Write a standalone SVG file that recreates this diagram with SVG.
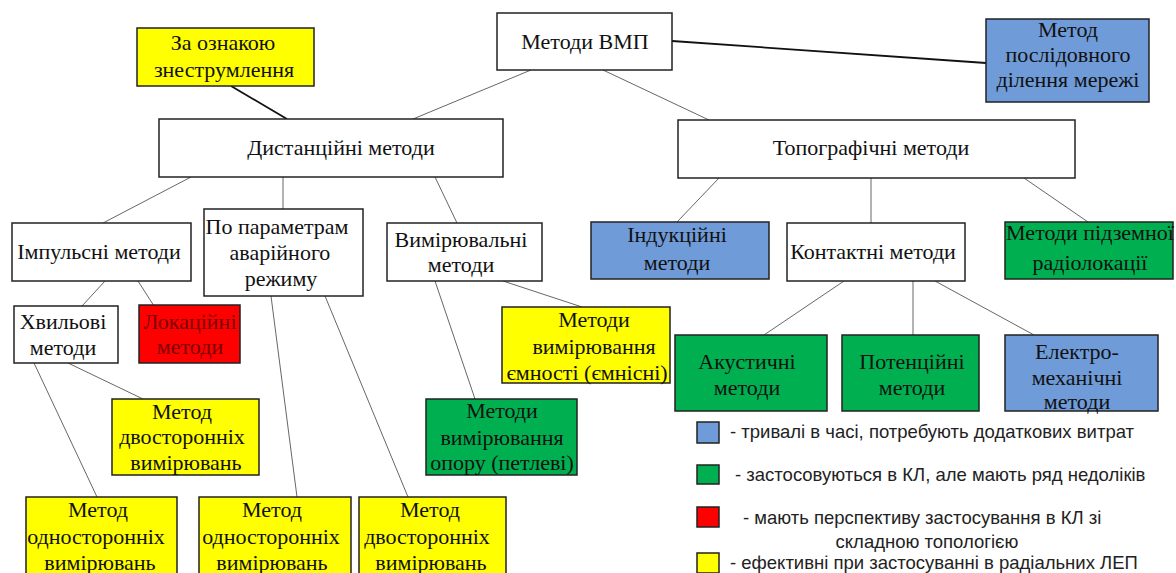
<svg xmlns="http://www.w3.org/2000/svg" width="1176" height="573" viewBox="0 0 1176 573">
<style>
.b{stroke:#222;stroke-width:1.5}
.w{fill:#fff}.y{fill:#ffff00}.g{fill:#00b050}.bl{fill:#6f9bd8}.r{fill:#ff0000}
text.t{font-family:'Liberation Serif','DejaVu Serif',serif;font-size:22px;fill:#111;text-anchor:middle}
text.rt{fill:#7a0000}
.c{stroke:#555;stroke-width:0.9;fill:none}
.ck{stroke:#111;stroke-width:1.8;fill:none}
text.lg{font-family:'Liberation Sans',Arial,sans-serif;font-size:18.5px;fill:#222}
</style>
<rect width="1176" height="573" fill="#fff"/>
<g id="connectors">
<line class="ck" x1="231" y1="86" x2="287" y2="119"/>
<line class="ck" x1="672" y1="41" x2="986" y2="63"/>
<line class="c" x1="531" y1="70" x2="413" y2="119"/>
<line class="c" x1="603" y1="70" x2="709" y2="120"/>
<line class="c" x1="191" y1="177" x2="103" y2="223"/>
<line class="c" x1="283" y1="177" x2="283" y2="209"/>
<line class="c" x1="435" y1="177" x2="457" y2="223"/>
<line class="c" x1="105" y1="281" x2="82" y2="306"/>
<line class="c" x1="138" y1="281" x2="154" y2="306"/>
<line class="c" x1="34" y1="363" x2="97" y2="497"/>
<line class="c" x1="68" y1="363" x2="143" y2="399"/>
<line class="c" x1="271" y1="296" x2="297" y2="497"/>
<line class="c" x1="325" y1="296" x2="408" y2="497"/>
<line class="c" x1="503" y1="281" x2="582" y2="307"/>
<line class="c" x1="435" y1="281" x2="475" y2="399"/>
<line class="c" x1="719" y1="178" x2="677" y2="222"/>
<line class="c" x1="871" y1="178" x2="871" y2="223"/>
<line class="c" x1="1024" y1="178" x2="1088" y2="222"/>
<line class="c" x1="844" y1="281" x2="764" y2="335"/>
<line class="c" x1="913" y1="281" x2="913" y2="335"/>
<line class="c" x1="935" y1="281" x2="1034" y2="335"/>
</g>
<g id="n-vmp"><rect class="b w" x="497" y="13" width="175" height="57"/><text class="t" x="585" y="49">Методи ВМП</text></g>
<g id="n-znestr"><rect class="b y" x="137" y="28" width="177" height="58"/><text class="t" x="223" y="50">За ознакою</text><text class="t" x="224" y="77">знеструмлення</text></g>
<g id="n-poslid"><rect class="b bl" x="986" y="19" width="163" height="83"/><text class="t" x="1068" y="37">Метод</text><text class="t" x="1068" y="62">послідовного</text><text class="t" x="1068" y="87">ділення мережі</text></g>
<g id="n-dist"><rect class="b w" x="159" y="119" width="344" height="58"/><text class="t" x="341" y="155">Дистанційні методи</text></g>
<g id="n-topo"><rect class="b w" x="678" y="120" width="397" height="58"/><text class="t" x="871" y="155">Топографічні методи</text></g>
<g id="n-imp"><rect class="b w" x="12" y="223" width="179" height="58"/><text class="t" x="99" y="259">Імпульсні методи</text></g>
<g id="n-param"><rect class="b w" x="204" y="209" width="159" height="87"/><text class="t" x="277" y="234">По параметрам</text><text class="t" x="280" y="260">аварійного</text><text class="t" x="281" y="286">режиму</text></g>
<g id="n-vymir"><rect class="b w" x="387" y="223" width="155" height="58"/><text class="t" x="461" y="247">Вимірювальні</text><text class="t" x="461" y="272">методи</text></g>
<g id="n-hvyl"><rect class="b w" x="14" y="306" width="104" height="57"/><text class="t" x="63" y="329">Хвильові</text><text class="t" x="63" y="355">методи</text></g>
<g id="n-lok"><rect class="b r" x="139" y="305" width="101" height="58"/><text class="t rt" x="190" y="329">Локаційні</text><text class="t rt" x="190" y="354">методи</text></g>
<g id="n-yemn"><rect class="b y" x="502" y="307" width="168" height="76"/><text class="t" x="594" y="327">Методи</text><text class="t" x="594" y="354">вимірювання</text><text class="t" x="587" y="380">ємності (ємнісні)</text></g>
<g id="n-opor"><rect class="b g" x="426" y="399" width="151" height="76"/><text class="t" x="502" y="418">Методи</text><text class="t" x="502" y="445">вимірювання</text><text class="t" x="502" y="470">опору (петлеві)</text></g>
<g id="n-dvost1"><rect class="b y" x="112" y="399" width="147" height="76"/><text class="t" x="182" y="419">Метод</text><text class="t" x="182" y="444">двосторонніх</text><text class="t" x="186" y="470">вимірювань</text></g>
<g id="n-odnost1"><rect class="b y" x="26" y="497" width="151" height="80"/><text class="t" x="98" y="517">Метод</text><text class="t" x="96" y="544">односторонніх</text><text class="t" x="100" y="570">вимірювань</text></g>
<g id="n-odnost2"><rect class="b y" x="199" y="497" width="152" height="80"/><text class="t" x="272" y="517">Метод</text><text class="t" x="271" y="544">односторонніх</text><text class="t" x="272" y="570">вимірювань</text></g>
<g id="n-dvost2"><rect class="b y" x="359" y="497" width="147" height="80"/><text class="t" x="430" y="517">Метод</text><text class="t" x="427" y="544">двосторонніх</text><text class="t" x="431" y="570">вимірювань</text></g>
<g id="n-induk"><rect class="b bl" x="591" y="222" width="178" height="57"/><text class="t" x="677" y="242">Індукційні</text><text class="t" x="677" y="270">методи</text></g>
<g id="n-kont"><rect class="b w" x="787" y="223" width="178" height="58"/><text class="t" x="873" y="259">Контактні методи</text></g>
<g id="n-radio"><rect class="b g" x="1005" y="222" width="168" height="57"/><text class="t" x="1090" y="240">Методи підземної</text><text class="t" x="1090" y="270">радіолокації</text></g>
<g id="n-akust"><rect class="b g" x="675" y="335" width="152" height="76"/><text class="t" x="747" y="369">Акустичні</text><text class="t" x="747" y="395">методи</text></g>
<g id="n-poten"><rect class="b g" x="842" y="335" width="137" height="76"/><text class="t" x="912" y="369">Потенційні</text><text class="t" x="912" y="395">методи</text></g>
<g id="n-elektro"><rect class="b bl" x="1005" y="335" width="153" height="76"/><text class="t" x="1077" y="359">Електро-</text><text class="t" x="1077" y="385">механічні</text><text class="t" x="1077" y="409">методи</text></g>
<g id="legend">
<rect class="b bl" x="697" y="422" width="22" height="21"/>
<text class="lg" x="730" y="438">- тривалі в часі, потребують додаткових витрат</text>
<rect class="b g" x="697" y="465" width="22" height="19"/>
<text class="lg" x="735" y="481">- застосовуються в КЛ, але мають ряд недоліків</text>
<rect class="b r" x="697" y="507" width="22" height="20"/>
<text class="lg" x="743" y="524">- мають перспективу застосування в КЛ зі</text>
<text class="lg" x="927" y="548" text-anchor="middle">складною топологією</text>
<rect class="b y" x="697" y="553" width="22" height="20"/>
<text class="lg" x="730" y="569">- ефективні при застосуванні в радіальних ЛЕП</text>
</g>
</svg>
